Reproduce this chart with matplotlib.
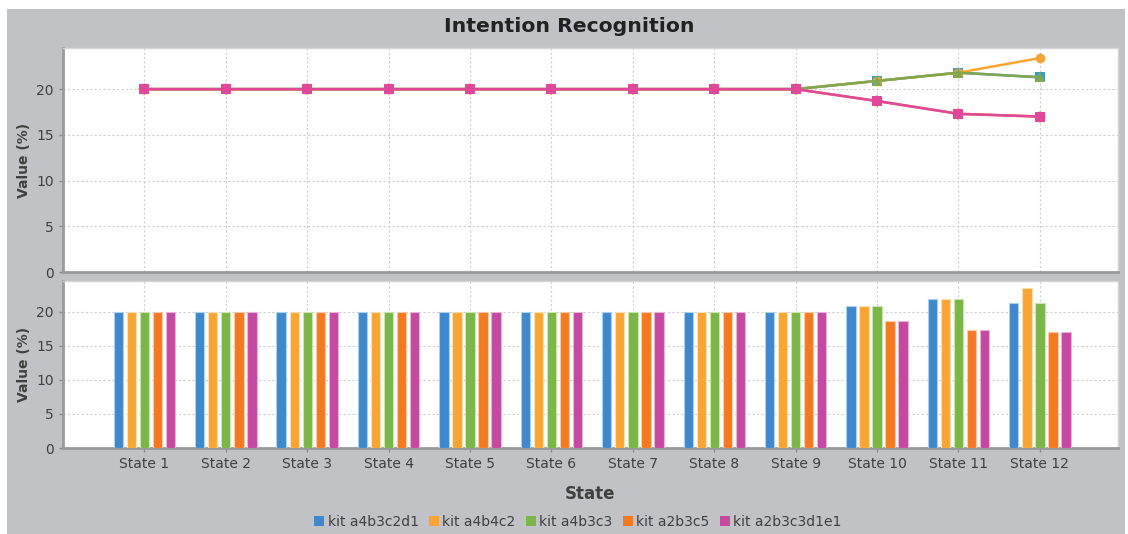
import matplotlib
matplotlib.use("Agg")
import matplotlib.pyplot as plt
from matplotlib.patches import Rectangle
from matplotlib.lines import Line2D
import numpy as np

states = [f"State {i}" for i in range(1, 13)]
series_names = ["kit a4b3c2d1", "kit a4b4c2", "kit a4b3c3", "kit a2b3c5", "kit a2b3c3d1e1"]
kit_a4b3c2d1 = [20, 20, 20, 20, 20, 20, 20, 20, 20, 20.9, 21.8, 21.3]
kit_a4b4c2 = [20, 20, 20, 20, 20, 20, 20, 20, 20, 20.9, 21.8, 23.4]
kit_a4b3c3 = [20, 20, 20, 20, 20, 20, 20, 20, 20, 20.9, 21.8, 21.3]
kit_a2b3c5 = [20, 20, 20, 20, 20, 20, 20, 20, 20, 18.7, 17.3, 17.0]
kit_a2b3c3d1e1 = [20, 20, 20, 20, 20, 20, 20, 20, 20, 18.7, 17.3, 17.0]
series_values = [kit_a4b3c2d1, kit_a4b4c2, kit_a4b3c3, kit_a2b3c5, kit_a2b3c3d1e1]
y_ticks = [0, 5, 10, 15, 20]

colors = ["#3f88cc", "#f9a533", "#7cb548", "#f47a22", "#c4499f"]
edge_colors = ["#a9d2f0", "#fde0b0", "#c9e6ac", "#fbc9a4", "#e8b2d8"]
line_colors = ["#3f9fb8", "#f9a533", "#7fa850", "#f47a22", "#e0489a"]
markers = ["s", "o", "^", "D", "s"]

BG = "#c1c2c6"
TXT = "#404040"

fig = plt.figure(figsize=(11.28, 5.34), dpi=100)
fig.patch.set_facecolor("white")
fig.patches.append(Rectangle((7 / 1128, 0), 1118 / 1128, 1 - 9 / 534,
                             transform=fig.transFigure, facecolor=BG,
                             edgecolor="none", zorder=-10))

x = np.arange(len(states))
left, width = 63 / 1128, 1055 / 1128
ax1 = fig.add_axes([left, 1 - 272 / 534, width, 224 / 534])
ax2 = fig.add_axes([left, 1 - 448 / 534, width, 167 / 534])


def style(ax):
    ax.set_facecolor("white")
    ax.set_xlim(-1.0, 11.96)
    ax.set_ylim(0, 24.5)
    ax.set_yticks(y_ticks)
    ax.set_xticks(x)
    ax.grid(True, color="#cfcfcf", linestyle=(0, (2, 2)), linewidth=0.8)
    ax.set_axisbelow(True)
    for s in ("top", "right"):
        ax.spines[s].set_color("#d4d4d8")
        ax.spines[s].set_linewidth(1.0)
    for s in ("left", "bottom"):
        ax.spines[s].set_color("#9a9a9e")
        ax.spines[s].set_linewidth(2.0)
    ax.tick_params(axis="both", colors="#8a8a8a", labelcolor=TXT,
                   labelsize=10, length=3, width=1)
    ax.set_ylabel("Value (%)", fontsize=10, color=TXT, fontweight="bold",
                  labelpad=4)


style(ax1)
style(ax2)
ax1.tick_params(axis="x", labelbottom=False, length=0)

for vals, c, m in zip(series_values, line_colors, markers):
    ms = 7 if m != "D" else 6
    ax1.plot(x, vals, color=c, linewidth=1.8, marker=m, markersize=ms,
             markeredgewidth=0, zorder=3)

offsets = [-0.32, -0.16, 0.0, 0.16, 0.32]
for vals, c, ec, off in zip(series_values, colors, edge_colors, offsets):
    ax2.bar(x + off, vals, width=0.115, color=c, edgecolor=ec,
            linewidth=0.8, zorder=3)

ax2.set_xticklabels(states, fontsize=10, color=TXT)
ax2.set_xlabel("State", fontsize=12, fontweight="bold", color=TXT, labelpad=10)

fig.text(0.505, 1 - 27 / 534, "Intention Recognition", ha="center", va="center",
         fontsize=14.7, fontweight="bold", color="#222222")

handles = [Line2D([], [], linestyle="none", marker="s", markersize=7,
                  markerfacecolor=c, markeredgewidth=0) for c in colors]
fig.legend(handles, series_names, loc="center", bbox_to_anchor=(0.512, 1 - 522 / 534),
           ncol=5, frameon=False, fontsize=10, handletextpad=0.2,
           columnspacing=0.7, handlelength=0.8, labelcolor=TXT)

fig.savefig("out.png", dpi=100, facecolor=fig.get_facecolor())
